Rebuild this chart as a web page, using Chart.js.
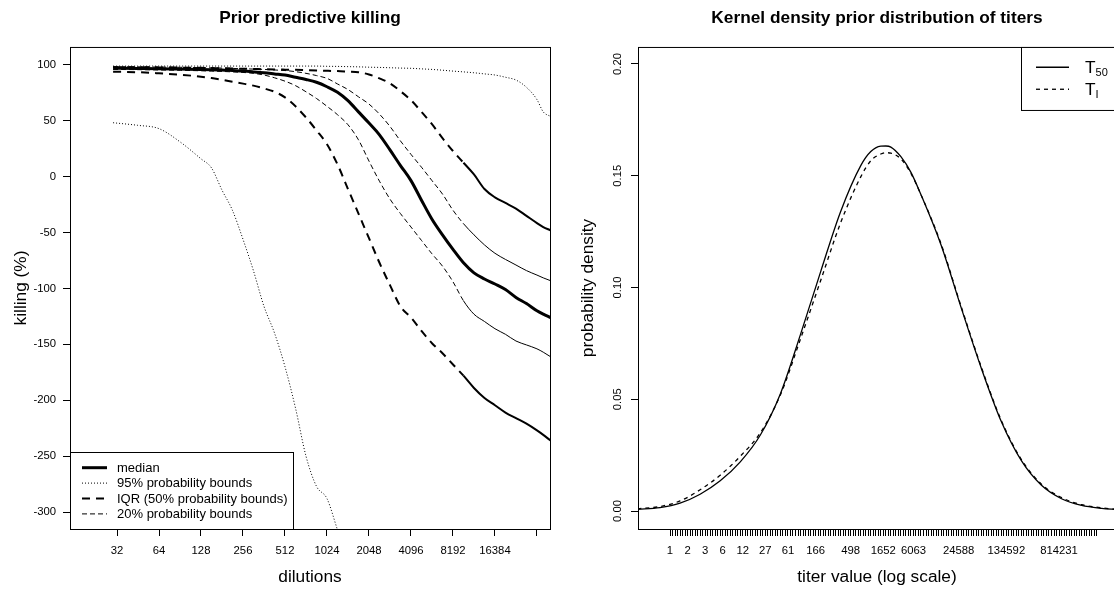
<!DOCTYPE html>
<html>
<head>
<meta charset="utf-8">
<script src="https://cdn.jsdelivr.net/npm/chart.js@4.4.1/dist/chart.umd.min.js"></script>
<style>
  html, body { margin: 0; padding: 0; background: #fff; overflow: hidden; }
  #left { position: absolute; left: 0; top: 0; }
  #right { position: absolute; left: 557px; top: 0; }
</style>
</head>
<body>
<canvas id="left" width="557" height="590"></canvas>
<canvas id="right" width="562" height="590"></canvas>
<script>
// ---- left panel: prior predictive killing ----
const dilutions = [30, 45, 64, 91, 128, 152, 181, 215, 256, 304, 362, 431, 512, 609, 724, 861,
  1024, 1218, 1448, 1722, 2048, 2435, 2896, 3444, 4096, 4871, 5793, 6889, 8192, 9742, 11585,
  13777, 16384, 19484, 23170, 27554, 32768, 36358, 40960];
const killMedian = [97, 96.8, 96.6, 96.3, 96, 95.8, 95.5, 95, 94.5, 93.8, 93, 92, 91, 89, 87, 84.5,
  80.5, 75.5, 68, 58, 48, 37.5, 24, 10, -3.5, -21, -38, -52, -65, -77, -86,
  -91.5, -96, -101, -108, -113.5, -120, -123, -126];
const kill95Upper = [99, 99, 99, 99, 99, 99, 99, 99, 99, 99, 99, 99, 99, 99, 99, 99,
  98.8, 98.7, 98.5, 98.3, 98, 97.8, 97.5, 97.2, 97, 96.5, 96, 95.3, 94.5, 93.8, 93,
  92, 91, 89, 86.5, 80, 69, 58, 54];
const kill95Lower = [48.3, 46, 43, 31, 16, 8, -12, -30, -56, -84, -116, -140, -170, -207, -250, -277,
  -288, -316, null, null, null, null, null, null, null, null, null, null, null, null, null,
  null, null, null, null, null, null, null, null];
const killIqrUpper = [98, 98, 97.8, 97.6, 97.4, 97.2, 97, 96.8, 96.6, 96.4, 96.2, 96, 95.8, 95.6, 95.3, 95,
  94.8, 94.5, 94, 93.5, 91.5, 88, 83.5, 76.5, 68.5, 58, 47, 34.5, 23, 12.5, 2,
  -11, -18.5, -23.5, -28.5, -35, -41.5, -45, -48];
const killIqrLower = [94, 93.5, 92.5, 91.3, 89.5, 88.3, 86.7, 85, 83.3, 81.5, 79, 76, 71, 63, 53, 41.5,
  29, 11, -11, -33, -55, -77, -97, -116, -126, -138, -149, -158, -168, -178, -189,
  -198, -204.5, -211, -216, -221, -227, -231, -236];
const kill20Upper = [98.5, 98.3, 98.1, 97.9, 97.6, 97.4, 97.2, 96.9, 96.6, 96.3, 96, 95.5, 95, 94, 92.5, 90.5,
  88, 83, 78, 71.5, 65, 56, 45, 32, 20, 8.5, -3.5, -15.5, -30, -42, -52,
  -61, -68.5, -74, -79, -84, -88, -90.5, -93];
const kill20Lower = [96, 95.8, 95.5, 95.2, 94.8, 94.5, 94.2, 93.8, 93.3, 92.5, 91, 88.5, 85.5, 81.5, 76, 70,
  63, 55.5, 46.5, 33, 14, -4, -20, -33, -45, -57, -69, -80, -94, -111, -123,
  -129.5, -136, -141, -147, -150.5, -154, -157, -161];
const dilutionTicks = [32, 64, 128, 256, 512, 1024, 2048, 4096, 8192, 16384, 32768];
const dilutionLabels = ['32', '64', '128', '256', '512', '1024', '2048', '4096', '8192', '16384', ''];
const killTicks = [-300, -250, -200, -150, -100, -50, 0, 50, 100];
const killLegendLabels = ['median', '95% probability bounds', 'IQR (50% probability bounds)', '20% probability bounds'];

// ---- right panel: kernel density of titers ----
const titerPos = [-13, -4, 4, 12, 20, 28, 36, 44, 52, 60, 68, 76, 80, 84, 86, 88, 92, 96, 100,
  108, 116, 124, 132, 140, 148, 156, 164, 172, 178];
const densT50 = [0.0007, 0.0015, 0.0035, 0.0075, 0.0135, 0.022, 0.034, 0.0525, 0.079, 0.107, 0.134, 0.1545,
  0.1608, 0.1632, 0.1633, 0.1628, 0.1585, 0.1515, 0.1415, 0.119, 0.091, 0.064, 0.040, 0.0225, 0.0115,
  0.0055, 0.0025, 0.0012, 0.0007];
const densTI = [0.001, 0.002, 0.0045, 0.0095, 0.016, 0.0245, 0.035, 0.052, 0.077, 0.103, 0.129, 0.1495,
  0.1567, 0.1597, 0.1603, 0.1601, 0.1575, 0.151, 0.1415, 0.1195, 0.0915, 0.0645, 0.0405, 0.023, 0.012,
  0.006, 0.0028, 0.0014, 0.0008];
const titerTickCount = 170;
const titerLabelPos = [0, 7, 14, 21, 29, 38, 47, 58, 72, 85, 97, 115, 134, 155];
const titerLabels = ['1', '2', '3', '6', '12', '27', '61', '166', '498', '1652', '6063', '24588', '134592', '814231'];
const densityTicks = [0, 0.05, 0.10, 0.15, 0.20];
const titerLegendSubs = ['50', 'I'];

Chart.defaults.font.family = '"Liberation Sans", Arial, Helvetica, sans-serif';
Chart.defaults.color = '#000';

const SOLID_FROM = 9000; // jagged tail of the dashed bounds renders solid

function pts(xs, ys) {
  return xs.map((x, i) => ({ x: x, y: ys[i] }));
}

function line(label, ys, width, dash, xs) {
  const ds = {
    label: label,
    data: pts(xs || dilutions, ys),
    borderColor: '#000',
    borderWidth: width,
    borderDash: dash,
    pointRadius: 0,
    fill: false,
    clip: 0,
    cubicInterpolationMode: 'monotone',
    spanGaps: false
  };
  return ds;
}

function tailSolid(ds) {
  ds.segment = { borderDash: ctx => ctx.p0.parsed.x >= SOLID_FROM ? [] : undefined };
  return ds;
}

const plotBox = {
  id: 'plotBox',
  afterDraw(chart) {
    const { ctx, chartArea: a } = chart;
    ctx.save();
    ctx.strokeStyle = '#000';
    ctx.lineWidth = 1;
    ctx.setLineDash([]);
    ctx.strokeRect(a.left + 0.5, a.top + 0.5, a.right - a.left, a.bottom - a.top);
    ctx.restore();
  }
};

const killLegend = {
  id: 'killLegend',
  afterDraw(chart) {
    const { ctx, chartArea: a } = chart;
    const w = 223, h = 77;
    const x0 = a.left, y0 = a.bottom - h;
    const rows = [0, 1, 3, 5];
    ctx.save();
    ctx.fillStyle = '#fff';
    ctx.fillRect(x0, y0, w, h);
    ctx.strokeStyle = '#000';
    ctx.lineWidth = 1;
    ctx.strokeRect(x0 + 0.5, y0 + 0.5, w, h);
    ctx.font = '13px "Liberation Sans", Arial, sans-serif';
    ctx.textBaseline = 'middle';
    ctx.fillStyle = '#000';
    killLegendLabels.forEach((label, i) => {
      const ds = chart.data.datasets[rows[i]];
      const y = y0 + 15.7 + i * 15.4;
      ctx.lineWidth = ds.borderWidth;
      ctx.setLineDash(ds.borderDash || []);
      ctx.beginPath();
      ctx.moveTo(x0 + 12, y);
      ctx.lineTo(x0 + 37, y);
      ctx.stroke();
      ctx.setLineDash([]);
      ctx.fillText(label, x0 + 47, y + 0.5);
    });
    ctx.restore();
  }
};

const titerLegend = {
  id: 'titerLegend',
  afterDraw(chart) {
    const { ctx, chartArea: a } = chart;
    const x0 = a.right - 95, y0 = a.top, h = 63;
    ctx.save();
    ctx.fillStyle = '#fff';
    ctx.fillRect(x0, y0, a.right - x0, h);
    ctx.strokeStyle = '#000';
    ctx.lineWidth = 1;
    ctx.strokeRect(x0 + 0.5, y0 + 0.5, a.right - x0, h);
    ctx.fillStyle = '#000';
    titerLegendSubs.forEach((sub, i) => {
      const ds = chart.data.datasets[i];
      const y = y0 + 20.3 + i * 22;
      ctx.lineWidth = 1.3;
      ctx.setLineDash(ds.borderDash || []);
      ctx.beginPath();
      ctx.moveTo(x0 + 15, y);
      ctx.lineTo(x0 + 48, y);
      ctx.stroke();
      ctx.setLineDash([]);
      ctx.textBaseline = 'alphabetic';
      ctx.font = '17.3px "Liberation Sans", Arial, sans-serif';
      ctx.fillText('T', x0 + 64, y + 6.2);
      const tw = ctx.measureText('T').width;
      ctx.font = '11px "Liberation Sans", Arial, sans-serif';
      ctx.fillText(sub, x0 + 64 + tw, y + 8.9);
    });
    ctx.restore();
  }
};

const axisGrid = { display: true, drawOnChartArea: false, drawTicks: true, tickLength: 7, tickColor: '#000', tickWidth: 1, color: '#000' };

new Chart(document.getElementById('left'), {
  type: 'line',
  data: {
    datasets: [
      line('median', killMedian, 3, []),
      line('95% upper', kill95Upper, 1, [1, 2]),
      line('95% lower', kill95Lower, 1, [1, 2]),
      tailSolid(line('IQR upper', killIqrUpper, 2, [8, 6])),
      tailSolid(line('IQR lower', killIqrLower, 2, [8, 6])),
      tailSolid(line('20% upper', kill20Upper, 1, [5, 3])),
      tailSolid(line('20% lower', kill20Lower, 1, [5, 3]))
    ]
  },
  options: {
    responsive: false,
    animation: false,
    layout: { padding: { left: 0, right: 7, top: 0, bottom: 0 } },
    plugins: {
      legend: { display: false },
      tooltip: { enabled: false },
      title: {
        display: true, text: 'Prior predictive killing', fullSize: false, color: '#000',
        font: { size: 17.3, weight: 'bold' }, padding: { top: 7.6, bottom: 18.6 }
      }
    },
    scales: {
      x: {
        type: 'logarithmic', min: 14.73, max: 40634, bounds: 'data',
        afterFit: s => { s.height = 61; },
        afterBuildTicks: s => { s.ticks = dilutionTicks.map(v => ({ value: v })); },
        ticks: {
          autoSkip: false, maxRotation: 0, minRotation: 0, padding: 8.2, color: '#000',
          font: { size: 11.3 },
          callback: (v, i) => dilutionLabels[i]
        },
        grid: axisGrid,
        border: { display: false },
        title: { display: true, text: 'dilutions', color: '#000', font: { size: 17.3 }, padding: { top: 0, bottom: 2.6 } }
      },
      y: {
        type: 'linear', min: -315.2, max: 116.1,
        afterFit: s => { s.width = 70; },
        afterBuildTicks: s => { s.ticks = killTicks.map(v => ({ value: v })); },
        ticks: { padding: 7, color: '#000', font: { size: 11.3 }, callback: v => String(v) },
        grid: axisGrid,
        border: { display: false },
        title: { display: true, text: 'killing (%)', color: '#000', font: { size: 17.3 }, padding: { top: 10.6, bottom: 0 } }
      }
    }
  },
  plugins: [plotBox, killLegend]
});

new Chart(document.getElementById('right'), {
  type: 'line',
  data: {
    datasets: [
      line('T50', densT50, 1.3, [], titerPos),
      line('TI', densTI, 1.3, [4, 4], titerPos)
    ]
  },
  options: {
    responsive: false,
    animation: false,
    layout: { padding: { left: 0, right: 3, top: 0, bottom: 0 } },
    plugins: {
      legend: { display: false },
      tooltip: { enabled: false },
      title: {
        display: true, text: 'Kernel density prior distribution of titers', fullSize: false, color: '#000',
        font: { size: 17.3, weight: 'bold' }, padding: { top: 7.6, bottom: 18.6 }
      }
    },
    scales: {
      x: {
        type: 'linear', min: -12.75, max: 177.7,
        afterFit: s => { s.height = 61; },
        afterBuildTicks: s => {
          const t = [];
          for (let u = 0; u <= titerTickCount; u++) t.push({ value: u });
          s.ticks = t;
        },
        ticks: {
          autoSkip: false, maxRotation: 0, minRotation: 0, padding: 8.2, color: '#000',
          font: { size: 11.3 },
          callback: v => {
            const k = titerLabelPos.indexOf(v);
            return k >= 0 ? titerLabels[k] : '';
          }
        },
        grid: axisGrid,
        border: { display: false },
        title: { display: true, text: 'titer value (log scale)', color: '#000', font: { size: 17.3 }, padding: { top: 0, bottom: 2.6 } }
      },
      y: {
        type: 'linear', min: -0.00805, max: 0.2076,
        afterFit: s => { s.width = 81; },
        afterBuildTicks: s => { s.ticks = densityTicks.map(v => ({ value: v })); },
        ticks: {
          padding: 2, color: '#000', font: { size: 11.3 }, minRotation: 90, maxRotation: 90,
          crossAlign: 'center', callback: v => v.toFixed(2)
        },
        grid: axisGrid,
        border: { display: false },
        title: { display: true, text: 'probability density', color: '#000', font: { size: 17.3 }, padding: { top: 20.6, bottom: 0 } }
      }
    }
  },
  plugins: [plotBox, titerLegend]
});
</script>
</body>
</html>
